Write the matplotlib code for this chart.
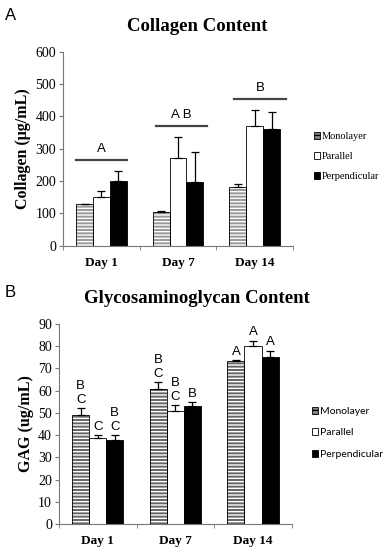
import numpy as np
import matplotlib
matplotlib.use('Agg')
import matplotlib.pyplot as plt
from matplotlib.patches import Patch

# data
days = ['Day 1', 'Day 7', 'Day 14']
groups = ['Monolayer', 'Parallel', 'Perpendicular']

col_mono = [128, 105, 182]
col_par = [150, 272, 370]
col_perp = [200, 197, 362]
col_mono_err = [2, 2, 8]
col_par_err = [20, 63, 50]
col_perp_err = [32, 93, 52]
col_sig_labels = ['A', 'A B', 'B']
col_sig_y = [265, 370, 455]
col_sig_x0 = [-0.33, 0.71, 1.73]
col_sig_x1 = [0.34, 1.38, 2.41]

gag_mono = [49.2, 60.6, 73.4]
gag_par = [38.7, 51.0, 80.0]
gag_perp = [38.0, 53.2, 75.0]
gag_mono_err = [2.8, 3.2, 0.3]
gag_par_err = [1.3, 2.4, 2.3]
gag_perp_err = [2.0, 1.5, 3.0]
gag_letters = [['B\nC', 'C', 'B\nC'], ['B\nC', 'B\nC', 'B'], ['A', 'A', 'A']]

serif = 'Liberation Serif'
sans = 'Liberation Sans'
grey = '#777777'

fig = plt.figure(figsize=(3.85, 5.5), dpi=100)

x = np.arange(len(days))
w = 0.22
offs = [-w, 0, w]


def draw_bars(ax, vals, errs, mono_color):
    # monolayer: grey with white horizontal stripes
    ax.bar(x + offs[0], vals[0], w, color=mono_color, hatch='-----', edgecolor='white', linewidth=0, zorder=2)
    ax.bar(x + offs[0], vals[0], w, fill=False, edgecolor='black', linewidth=0.6, zorder=3)
    ax.bar(x + offs[1], vals[1], w, color='white', edgecolor='black', linewidth=0.6, zorder=2)
    ax.bar(x + offs[2], vals[2], w, color='black', edgecolor='black', linewidth=0.6, zorder=2)
    for i in range(3):
        ax.errorbar(x + offs[i], vals[i], yerr=[np.zeros(3), errs[i]], fmt='none', ecolor='black',
                    elinewidth=0.9, capsize=3, capthick=0.9, zorder=4)


def style_axes(ax, ymax, step):
    ax.set_xlim(-0.5, 2.5)
    ax.set_ylim(0, ymax)
    ax.set_yticks(np.arange(0, ymax + 1, step))
    ax.set_xticks(x)
    ax.set_xticklabels(days, fontfamily=serif, fontweight='bold', fontsize=9.5)
    ax.set_xticks([-0.5, 0.5, 1.5, 2.5], minor=True)
    ax.tick_params(axis='x', which='major', length=0, pad=8)
    ax.tick_params(axis='x', which='minor', length=3, color=grey, direction='out')
    ax.tick_params(axis='y', length=3, color=grey, labelsize=10, pad=2)
    for lab in ax.get_yticklabels():
        lab.set_fontfamily(serif)
    for s in ['top', 'right']:
        ax.spines[s].set_visible(False)
    for s in ['left', 'bottom']:
        ax.spines[s].set_color(grey)
        ax.spines[s].set_linewidth(0.8)


def legend_handles():
    return [Patch(facecolor='#888888', edgecolor='black', hatch='----', linewidth=0.6),
            Patch(facecolor='white', edgecolor='black', linewidth=0.6),
            Patch(facecolor='black', edgecolor='black', linewidth=0.6)]


# panel A: collagen
ax1 = fig.add_axes([0.164, 0.553, 0.597, 0.353])
draw_bars(ax1, [col_mono, col_par, col_perp], [col_mono_err, col_par_err, col_perp_err], '#999999')
style_axes(ax1, 600, 100)
for i in range(3):
    ax1.plot([col_sig_x0[i], col_sig_x1[i]], [col_sig_y[i], col_sig_y[i]], color='#444444', lw=1.6)
    ax1.text((col_sig_x0[i] + col_sig_x1[i]) / 2, col_sig_y[i] + 15, col_sig_labels[i],
             ha='center', va='bottom', fontfamily=sans, fontsize=9.5)
ax1.set_ylabel('Collagen (μg/mL)', fontfamily=serif, fontweight='bold', fontsize=11.5, labelpad=3)
fig.text(0.512, 0.951, 'Collagen Content', ha='center', va='center', fontfamily=serif,
         fontweight='bold', fontsize=13.5)
fig.text(0.012, 0.972, 'A', ha='left', va='center', fontfamily=sans, fontsize=12)
leg1 = fig.legend(legend_handles(), groups, loc='center left', bbox_to_anchor=(0.79, 0.715),
                  frameon=False, prop={'family': serif, 'size': 7.5}, handlelength=0.65,
                  handleheight=0.65, handletextpad=0.15, labelspacing=1.05)

# panel B: GAG
ax2 = fig.add_axes([0.153, 0.047, 0.605, 0.364])
draw_bars(ax2, [gag_mono, gag_par, gag_perp], [gag_mono_err, gag_par_err, gag_perp_err], '#666666')
style_axes(ax2, 90, 10)
allv = [gag_mono, gag_par, gag_perp]
alle = [gag_mono_err, gag_par_err, gag_perp_err]
for d in range(3):
    for g in range(3):
        top = allv[g][d] + alle[g][d]
        ax2.text(x[d] + offs[g], top + 1.2, gag_letters[d][g], ha='center', va='bottom',
                 fontfamily=sans, fontsize=9.5, linespacing=1.15)
ax2.set_ylabel('GAG (ug/mL)', fontfamily=serif, fontweight='bold', fontsize=11.5, labelpad=3)
fig.text(0.512, 0.458, 'Glycosaminoglycan Content', ha='center', va='center', fontfamily=serif,
         fontweight='bold', fontsize=13.5)
fig.text(0.012, 0.468, 'B', ha='left', va='center', fontfamily=sans, fontsize=12)
leg2 = fig.legend(legend_handles(), groups, loc='center left', bbox_to_anchor=(0.785, 0.213),
                  frameon=False, prop={'family': 'Lato', 'size': 7.5}, handlelength=0.65,
                  handleheight=0.65, handletextpad=0.15, labelspacing=1.2)

fig.savefig('out.png', dpi=100)
